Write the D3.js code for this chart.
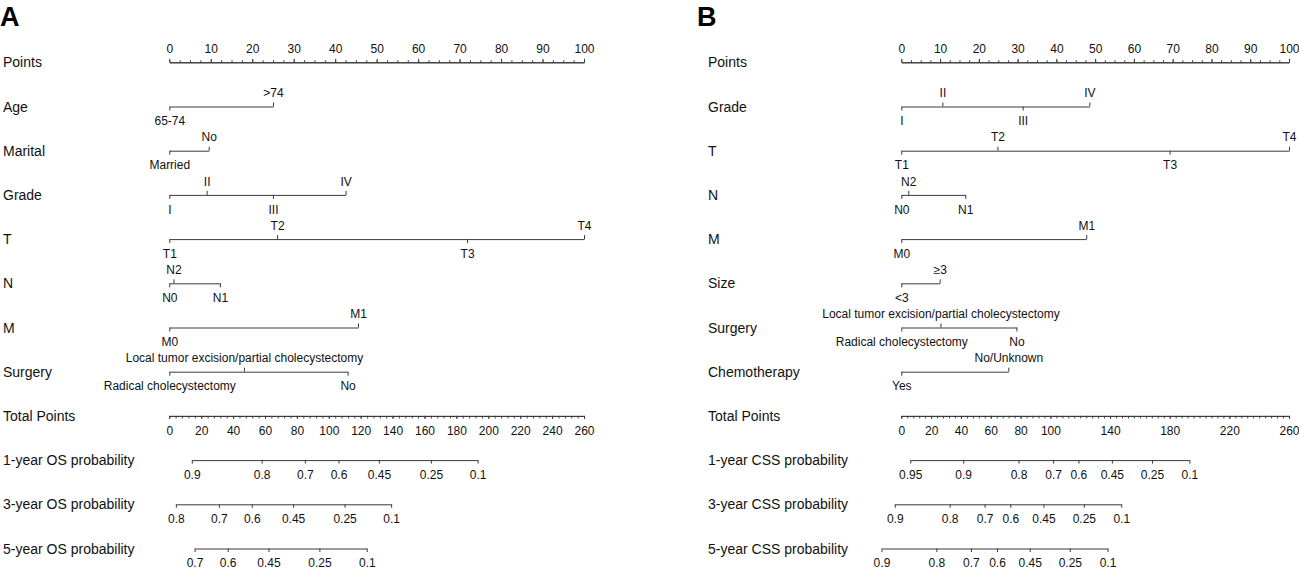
<!DOCTYPE html>
<html>
<head>
<meta charset="utf-8">
<script src="https://cdn.jsdelivr.net/npm/d3@7"></script>
<style>
    body { margin: 0; background: #fff; }
    text { font-family: Arial, "Liberation Sans", sans-serif; }
</style>
</head>
<body>
<div id="chart"></div>
<script>
// ---- data ----
const pointTicks = d3.range(0, 101, 10);
const pointMinor = d3.range(0, 100.01, 2.5);
const totalTicksA = d3.range(0, 261, 20);
const totalTicksB = [0, 20, 40, 60, 80, 100, 140, 180, 220, 260];
const totalMinor = d3.range(0, 260.01, 4);

// panel A (OS)
const ageLevels = ["65-74", ">74"];
const agePts = [0, 25];
const maritalLevels = ["Married", "No"];
const maritalPts = [0, 9.5];
const gradeLevelsA = ["I", "II", "III", "IV"];
const gradePtsA = [0, 9, 25, 42.5];
const tLevelsA = ["T1", "T2", "T3", "T4"];
const tPtsA = [0, 26, 71.8, 100];
const nLevelsA = ["N0", "N1", "N2"];
const nPtsA = [0, 12.2, 1];
const mLevelsA = ["M0", "M1"];
const mPtsA = [0, 45.5];
const surgeryLevels = ["Radical cholecystectomy", "Local tumor excision/partial cholecystectomy", "No"];
const surgeryPtsA = [0, 18, 43];

const probLabelsA1 = ["0.9", "0.8", "0.7", "0.6", "0.45", "0.25", "0.1"];
const os1Total = [14.1, 57.9, 85, 106.1, 131.4, 164, 193.3];
const probLabelsA3 = ["0.8", "0.7", "0.6", "0.45", "0.25", "0.1"];
const os3Total = [4.1, 31.1, 51.7, 77.6, 109.9, 139.1];
const probLabelsA5 = ["0.7", "0.6", "0.45", "0.25", "0.1"];
const os5Total = [15.8, 36.6, 62.2, 94.1, 123.8];

// panel B (CSS)
const gradePtsB = [0, 10.6, 31.3, 48.5];
const tPtsB = [0, 24.8, 69.2, 100];
const nPtsB = [0, 16.5, 1.8];
const mPtsB = [0, 47.7];
const sizeLevels = ["<3", "\u22653"];
const sizePts = [0, 9.9];
const surgeryPtsB = [0, 10.1, 29.7];
const chemoLevels = ["Yes", "No/Unknown"];
const chemoPts = [0, 27.6];

const probLabelsB1 = ["0.95", "0.9", "0.8", "0.7", "0.6", "0.45", "0.25", "0.1"];
const css1Total = [6, 41.5, 78.6, 101.8, 118.8, 141.2, 168.1, 193.2];
const probLabelsB3 = ["0.9", "0.8", "0.7", "0.6", "0.45", "0.25", "0.1"];
const css3Total = [-4.4, 32.4, 55.9, 73.1, 95.3, 122.4, 147.5];
const probLabelsB5 = ["0.9", "0.8", "0.7", "0.6", "0.45", "0.25", "0.1"];
const css5Total = [-13.3, 23.5, 46.7, 64.2, 86.1, 113, 138.3];

const width = 1299, height = 571;
const lineColor = "#3a3a3a";

const svg = d3.select("#chart")
    .append("svg")
    .attr("width", width)
    .attr("height", height);

const styleAxis = function (g) {
    g.attr("font-size", 12)
     .attr("font-family", "Arial, 'Liberation Sans', sans-serif")
     .attr("color", lineColor);
    g.selectAll("text").attr("fill", "#111");
    g.selectAll("line, path").attr("stroke-width", 1);
}

const Nomogram = function (props) {
    const g = svg.append("g");
    const x = d3.scaleLinear().domain([0, 100]).range([props.x0, props.x1]);
    const xt = d3.scaleLinear().domain([0, 260]).range([props.x0, props.x1]);
    const rowNames = ["Points"].concat(props.vars.map(d => d.name), ["Total Points"], props.probs.map(d => d.name));
    const y = d3.scalePoint().domain(rowNames).range([62.3, 548.5]);

    // panel letter
    g.append("text")
        .attr("x", props.letterX)
        .attr("y", 26)
        .style("font-size", "27px")
        .style("font-weight", "700")
        .text(props.letter);

    // row labels
    g.selectAll(".rowLabel")
        .data(rowNames)
        .enter()
        .append("text")
        .attr("class", "rowLabel")
        .attr("x", props.labelX)
        .attr("y", d => y(d) + 5)
        .style("font-size", "14px")
        .attr("fill", "#111")
        .text(d => d);

    // Points axis
    g.append("g")
        .attr("transform", `translate(0,${y("Points")})`)
        .call(d3.axisTop(x).tickValues(pointMinor).tickSize(2).tickSizeOuter(0).tickFormat(""))
        .call(styleAxis);
    g.append("g")
        .attr("transform", `translate(0,${y("Points")})`)
        .call(d3.axisTop(x).tickValues(pointTicks).tickSize(3.5).tickSizeOuter(0).tickPadding(6))
        .call(styleAxis);

    // variables: levels sorted by points, labels alternate below / above
    props.vars.forEach(v => {
        const items = v.levels.map((l, i) => ({label: l, pts: v.pts[i]}))
                              .sort((a, b) => a.pts - b.pts);
        const below = items.filter((d, i) => i % 2 === 0);
        const above = items.filter((d, i) => i % 2 === 1);
        const sc = d3.scaleLinear().domain(d3.extent(v.pts)).range(d3.extent(v.pts).map(x));
        g.append("g")
            .attr("transform", `translate(0,${y(v.name)})`)
            .call(d3.axisTop(sc).tickValues(above.map(d => d.pts)).tickSize(4).tickSizeOuter(0)
                .tickPadding(5.4).tickFormat((d, i) => above[i].label))
            .call(styleAxis);
        g.append("g")
            .attr("transform", `translate(0,${y(v.name)})`)
            .call(d3.axisBottom(sc).tickValues(below.map(d => d.pts)).tickSize(4).tickSizeOuter(0)
                .tickPadding(6.1).tickFormat((d, i) => below[i].label))
            .call(styleAxis)
            .select(".domain").remove();
    });

    // Total Points axis
    g.append("g")
        .attr("transform", `translate(0,${y("Total Points")})`)
        .call(d3.axisBottom(xt).tickValues(totalMinor).tickSize(2.5).tickSizeOuter(0).tickFormat(""))
        .call(styleAxis);
    g.append("g")
        .attr("transform", `translate(0,${y("Total Points")})`)
        .call(d3.axisBottom(xt).tickValues(props.totalTicks).tickSize(3).tickSizeOuter(0).tickPadding(7.3))
        .call(styleAxis);

    // probability axes
    props.probs.forEach(p => {
        const sc = d3.scaleLinear().domain(d3.extent(p.total)).range(d3.extent(p.total).map(xt));
        g.append("g")
            .attr("transform", `translate(0,${y(p.name)})`)
            .call(d3.axisBottom(sc).tickValues(p.total).tickSize(3.5).tickSizeOuter(0)
                .tickPadding(6.6).tickFormat((d, i) => p.labels[i]))
            .call(styleAxis);
    });
}

Nomogram({
    letter: "A", letterX: 0, labelX: 3, x0: 169.3, x1: 584,
    totalTicks: totalTicksA,
    vars: [
        {name: "Age", levels: ageLevels, pts: agePts},
        {name: "Marital", levels: maritalLevels, pts: maritalPts},
        {name: "Grade", levels: gradeLevelsA, pts: gradePtsA},
        {name: "T", levels: tLevelsA, pts: tPtsA},
        {name: "N", levels: nLevelsA, pts: nPtsA},
        {name: "M", levels: mLevelsA, pts: mPtsA},
        {name: "Surgery", levels: surgeryLevels, pts: surgeryPtsA}
    ],
    probs: [
        {name: "1-year OS probability", labels: probLabelsA1, total: os1Total},
        {name: "3-year OS probability", labels: probLabelsA3, total: os3Total},
        {name: "5-year OS probability", labels: probLabelsA5, total: os5Total}
    ]
});

Nomogram({
    letter: "B", letterX: 697, labelX: 708, x0: 901.3, x1: 1289,
    totalTicks: totalTicksB,
    vars: [
        {name: "Grade", levels: gradeLevelsA, pts: gradePtsB},
        {name: "T", levels: tLevelsA, pts: tPtsB},
        {name: "N", levels: nLevelsA, pts: nPtsB},
        {name: "M", levels: mLevelsA, pts: mPtsB},
        {name: "Size", levels: sizeLevels, pts: sizePts},
        {name: "Surgery", levels: surgeryLevels, pts: surgeryPtsB},
        {name: "Chemotherapy", levels: chemoLevels, pts: chemoPts}
    ],
    probs: [
        {name: "1-year CSS probability", labels: probLabelsB1, total: css1Total},
        {name: "3-year CSS probability", labels: probLabelsB3, total: css3Total},
        {name: "5-year CSS probability", labels: probLabelsB5, total: css5Total}
    ]
});
</script>
</body>
</html>
